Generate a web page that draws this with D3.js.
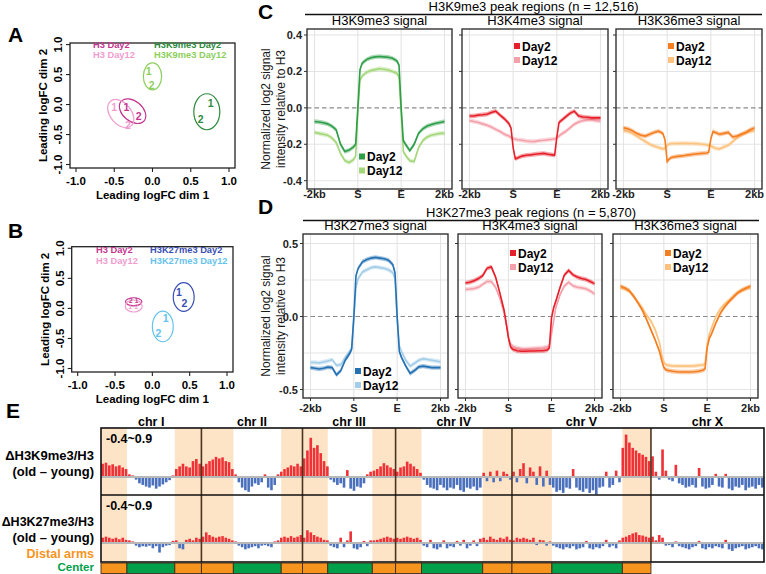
<!DOCTYPE html>
<html><head><meta charset="utf-8">
<script src="https://cdn.jsdelivr.net/npm/d3@7"></script>
<style>
body{margin:0;background:#fff}
svg text{font-family:"Liberation Sans",Arial,Helvetica,sans-serif}
</style>
</head><body>
<svg id="c" width="766" height="574"></svg>
<script>
// ================= DATA =================
// Panels A / B (MDS plots)
const mdsTicks = [-1, -0.5, 0, 0.5, 1];
const mdsTickLabels = ["-1.0", "-0.5", "0.0", "0.5", "1.0"];
const groupsA = ["H3 Day2", "H3 Day12", "H3K9me3 Day2", "H3K9me3 Day12"];
const groupsB = ["H3 Day2", "H3 Day12", "H3K27me3 Day2", "H3K27me3 Day12"];
const replicates = ["1", "2"];
// replicate coordinates: [rep1, rep2] per group
const ptsAx = [[-0.34, -0.18], [-0.50, -0.32], [0.76, 0.63], [-0.05, -0.01]];
const ptsAy = [[-0.05, -0.19], [-0.04, -0.34], [0.03, -0.24], [0.56, 0.33]];
// ellipse: [cx, cy, rx, ry, angle]
const ellA = [[-0.26, -0.11, 0.197, 0.167, 40], [-0.415, -0.15, 0.21, 0.175, 50], [0.71, -0.12, 0.17, 0.30, 0], [0.0, 0.47, 0.12, 0.225, 0]];
const ptsBx = [[-0.21, -0.29], [-0.30, -0.21], [0.355, 0.43], [0.18, 0.08]];
const ptsBy = [[0.135, 0.135], [0.035, 0.035], [0.27, 0.08], [-0.16, -0.42]];
const ellB = [[-0.25, 0.11, 0.11, 0.067, 0], [-0.25, 0.04, 0.114, 0.10, 0], [0.42, 0.19, 0.14, 0.24, 0], [0.14, -0.30, 0.14, 0.255, 0]];

// Panels C / D (metaprofiles)
const profilePos = [0,0.1,0.2,0.3,0.4,0.5,0.6,0.7,0.8,0.9,0.95,1,1.05,1.1,1.2,1.3,1.4,1.5,1.6,1.7,1.8,1.9,1.95,2,2.05,2.1,2.2,2.3,2.4,2.5,2.6,2.7,2.8,2.9,3];
const profileTickPos = [0, 1, 2, 3];
const profileTickLabels = ["-2kb", "S", "E", "2kb"];
const days = ["Day2", "Day12"];
// C: H3K9me3 peak regions
const cK9_d2  = [-0.075,-0.078,-0.082,-0.088,-0.100,-0.120,-0.200,-0.240,-0.232,-0.215,-0.200, 0.000, 0.210,0.245,0.265,0.275,0.280,0.282,0.280,0.278,0.272,0.258,0.235, 0.000, -0.180,-0.200,-0.235,-0.200,-0.140,-0.115,-0.100,-0.092,-0.085,-0.080,-0.075];
const cK9_d12 = [-0.135,-0.140,-0.145,-0.150,-0.165,-0.190,-0.250,-0.290,-0.300,-0.285,-0.265, -0.020, 0.150,0.175,0.195,0.205,0.210,0.215,0.212,0.208,0.200,0.190,0.170, -0.030, -0.240,-0.260,-0.290,-0.295,-0.220,-0.180,-0.160,-0.150,-0.145,-0.140,-0.140];
const cK4_d2  = [-0.045,-0.045,-0.040,-0.038,-0.035,-0.025,-0.018,-0.040,-0.060,-0.085,-0.110, -0.220, -0.280,-0.275,-0.265,-0.260,-0.258,-0.255,-0.252,-0.250,-0.255,-0.258,-0.260, -0.160, -0.080,-0.070,-0.050,-0.030,-0.018,-0.045,-0.050,-0.052,-0.055,-0.055,-0.055];
const cK4_d12 = [-0.070,-0.075,-0.080,-0.088,-0.095,-0.105,-0.118,-0.130,-0.145,-0.155,-0.162, -0.170, -0.172,-0.175,-0.178,-0.182,-0.185,-0.184,-0.180,-0.178,-0.175,-0.172,-0.170, -0.165, -0.155,-0.145,-0.130,-0.110,-0.090,-0.078,-0.070,-0.066,-0.066,-0.070,-0.072];
const cK36_d2 = [-0.110,-0.115,-0.125,-0.140,-0.150,-0.155,-0.145,-0.135,-0.128,-0.140,-0.175, -0.295, -0.280,-0.272,-0.268,-0.265,-0.262,-0.258,-0.255,-0.252,-0.250,-0.248,-0.245, -0.170, -0.130,-0.135,-0.145,-0.140,-0.135,-0.160,-0.155,-0.145,-0.135,-0.120,-0.110];
const cK36_d12= [-0.125,-0.130,-0.140,-0.155,-0.170,-0.185,-0.200,-0.210,-0.218,-0.225,-0.222, -0.205, -0.198,-0.196,-0.196,-0.195,-0.195,-0.196,-0.196,-0.197,-0.200,-0.203,-0.206, -0.210, -0.215,-0.222,-0.225,-0.215,-0.205,-0.185,-0.165,-0.148,-0.138,-0.130,-0.125];
// D: H3K27me3 peak regions
const dK27_d2 = [-0.350,-0.355,-0.360,-0.355,-0.347,-0.350,-0.400,-0.370,-0.300,-0.255,-0.225, 0.000, 0.280,0.330,0.375,0.390,0.400,0.405,0.400,0.395,0.385,0.355,0.300, 0.000, -0.240,-0.280,-0.340,-0.390,-0.370,-0.345,-0.340,-0.345,-0.350,-0.350,-0.350];
const dK27_d12= [-0.315,-0.315,-0.318,-0.312,-0.305,-0.295,-0.335,-0.330,-0.280,-0.240,-0.215, -0.020, 0.200,0.260,0.305,0.320,0.335,0.340,0.335,0.330,0.320,0.300,0.260, -0.020, -0.200,-0.240,-0.300,-0.340,-0.320,-0.300,-0.290,-0.295,-0.300,-0.305,-0.310];
const dK4_d2  = [0.230,0.235,0.245,0.260,0.280,0.330,0.340,0.270,0.160,0.040,-0.050, -0.150, -0.210,-0.225,-0.235,-0.238,-0.238,-0.236,-0.236,-0.235,-0.235,-0.230,-0.215, -0.010, 0.060,0.105,0.200,0.285,0.315,0.285,0.270,0.260,0.253,0.240,0.225];
const dK4_d12 = [0.185,0.188,0.192,0.200,0.220,0.240,0.240,0.200,0.125,0.020,-0.060, -0.140, -0.190,-0.205,-0.215,-0.220,-0.222,-0.220,-0.218,-0.216,-0.214,-0.208,-0.200, -0.120, -0.030,0.060,0.150,0.210,0.235,0.210,0.200,0.196,0.190,0.175,0.155];
const dK36_d2 = [0.208,0.195,0.178,0.140,0.095,0.045,-0.020,-0.090,-0.160,-0.240,-0.300, -0.350, -0.365,-0.370,-0.375,-0.378,-0.380,-0.380,-0.380,-0.378,-0.375,-0.368,-0.360, -0.215, -0.150,-0.120,-0.045,0.020,0.065,0.100,0.130,0.160,0.180,0.195,0.208];
const dK36_d12= [0.196,0.190,0.175,0.140,0.100,0.060,0.010,-0.030,-0.090,-0.180,-0.260, -0.315, -0.330,-0.335,-0.338,-0.340,-0.340,-0.340,-0.340,-0.338,-0.335,-0.332,-0.325, -0.190, -0.120,-0.080,0.000,0.050,0.085,0.110,0.140,0.165,0.180,0.190,0.196];
const cTicks = [0.4, 0.2, 0, -0.2, -0.4];
const cTickLabels = ["0.4", "0.2", "0.0", "-0.2", "-0.4"];
const dTicks = [0.5, 0, -0.5];
const dTickLabels = ["0.5", "0.0", "-0.5"];

// Panel E (genome tracks, ~0.5-Mb bins)
const chrNames = ["chr I", "chr II", "chr III", "chr IV", "chr V", "chr X"];
const chrLenMb = [15.1, 15.2, 14.0, 17.5, 20.9, 17.0];
const armLeftEndMb = [3.9, 4.8, 3.8, 3.9, 6.0, null];
const armRightStartMb = [11.1, 12.0, 10.5, 13.1, 16.6, null];
const dK9_I  = [0.25,0.27,0.22,0.24,0.20,0.22,0.18,0.15, 0.05,0.03,-0.05,-0.12,-0.15,-0.18,-0.20,-0.16,-0.22,-0.18,-0.14,-0.10,-0.06,0.03, 0.15,0.20,0.25,0.20,0.18,0.30,0.34,0.25];
const dK9_II = [0.20,0.25,0.30,0.33,0.38,0.35,0.37,0.30,0.28,0.15, 0.05,-0.10,-0.20,-0.25,-0.28,-0.18,-0.12,-0.15,-0.10,0.05,-0.20,-0.25,-0.15,0.05, 0.10,0.15,0.18,0.22,0.20,0.25,0.20];
const dK9_III= [0.35,0.50,0.74,0.55,0.60,0.45,0.30,0.20, -0.05,-0.10,-0.15,-0.12,-0.20,0.13,-0.22,-0.26,-0.18,-0.20,-0.12,0.05,0.10, 0.12,0.15,0.20,0.26,0.22,0.18,0.15];
const dK9_IV = [0.10,0.18,0.20,0.29,0.25,0.20,0.15,0.08, -0.05,-0.15,-0.20,-0.22,-0.25,-0.15,-0.20,-0.25,-0.20,-0.22,-0.15,-0.25,-0.28,-0.20,-0.22,-0.18,-0.25,-0.20, 0.08,-0.08,0.10,-0.10,0.12,-0.08,0.10,0.06,-0.05];
const dK9_V  = [0.10,-0.10,0.15,0.26,-0.12,0.18,0.10,-0.15,0.20,-0.18,0.12,-0.15, -0.20,-0.28,-0.25,-0.30,-0.20,-0.22,0.15,-0.20,-0.25,-0.28,-0.22,-0.30,-0.25,-0.33,-0.20,-0.18,0.10,-0.20,-0.15,0.12,-0.10, 0.55,0.80,0.65,0.55,0.50,0.45,0.42,0.38,0.30];
const dK9_X  = [0.39,0.10,-0.05,0.52,0.12,-0.05,-0.08,0.23,-0.12,-0.15,-0.20,-0.18,-0.15,-0.20,0.17,-0.18,-0.22,-0.20,-0.15,0.06,-0.18,-0.20,0.06,-0.22,-0.25,-0.18,-0.20,-0.15,-0.25,-0.20,-0.18,-0.22,-0.15,-0.20];
const dK27_I  = [0.10,0.12,0.10,0.08,0.10,0.07,0.10,0.06, 0.05,0.03,-0.05,-0.08,-0.06,-0.07,-0.05,-0.10,-0.06,-0.18,-0.08,-0.05,-0.04,0.04, 0.05,-0.10,-0.12,0.06,0.08,0.05,0.10,0.08];
const dK27_II = [0.12,0.20,0.15,0.12,0.10,0.12,0.13,0.10,0.08,0.05, 0.03,-0.05,-0.08,-0.12,-0.10,-0.08,-0.06,-0.10,-0.05,-0.04,-0.06,-0.08,0.03,0.05, 0.10,0.12,0.10,0.13,0.10,0.12,0.15];
const dK27_III= [0.10,0.24,0.20,0.15,0.12,0.10,0.06,0.05, -0.05,-0.08,-0.10,0.10,-0.08,0.05,0.22,-0.10,-0.12,-0.08,0.04,-0.06,0.05, 0.05,0.06,0.08,0.10,0.12,0.10,0.08];
const dK27_IV = [0.10,0.08,0.10,0.12,0.10,0.08,0.10,0.06, -0.05,-0.08,0.06,-0.10,-0.12,-0.08,0.05,-0.10,-0.06,-0.08,0.04,-0.05,0.06,-0.10,-0.05,0.05,-0.06,0.08, 0.10,0.06,0.12,0.08,0.06,0.10,0.08,0.12,0.06];
const dK27_V  = [0.05,0.10,0.08,0.10,0.08,0.06,0.10,-0.04,0.06,0.05,-0.05,0.03, -0.05,-0.08,-0.10,-0.12,-0.08,-0.10,-0.06,-0.12,-0.10,-0.08,0.04,-0.10,-0.12,-0.08,-0.10,-0.06,0.06,-0.08,-0.05,-0.10,0.05, 0.10,0.12,0.15,0.18,0.20,0.15,0.14,0.12,0.10];
const dK27_X  = [0.12,0.05,0.15,0.10,-0.05,-0.04,-0.08,0.03,-0.06,-0.08,-0.10,-0.12,-0.08,-0.06,0.04,-0.10,-0.12,-0.08,-0.10,-0.06,-0.08,-0.10,0.06,-0.12,-0.15,-0.10,-0.08,-0.06,-0.12,-0.10,-0.08,-0.06,-0.10,-0.12];
const trackRange = [-0.4, 0.9];

// ================= DRAWING =================
const svg = d3.select("#c");
const BOLD = "bold";

function txt(g, x, y, s, o = {}) {
  const t = g.append("text").attr("x", x).attr("y", y).text(s)
    .attr("font-size", o.size || 12).attr("font-weight", o.weight || "normal")
    .attr("fill", o.fill || "#000").attr("text-anchor", o.anchor || "start");
  if (o.rotate) t.attr("transform", `rotate(${o.rotate},${x},${y})`);
  return t;
}

// panel letters
[["A", 8, 42], ["B", 8, 238], ["C", 258, 19], ["D", 258, 214], ["E", 6, 418]]
  .forEach(([l, x, y]) => txt(svg, x, y, l, {size: 21, weight: BOLD}));

// ---------- MDS ----------
function drawMDS(p) {
  const g = svg.append("g");
  const x = d3.scaleLinear().domain([-1, 1]).range([p.x0 + 6, p.x1 - 6]);
  const y = d3.scaleLinear().domain([-1, 1]).range([p.y1 - 3.5, p.y0 + 1.6]);
  g.append("rect").attr("x", p.x0).attr("y", p.y0).attr("width", p.x1 - p.x0).attr("height", p.y1 - p.y0)
    .attr("fill", "none").attr("stroke", "#222").attr("stroke-width", 1.3);
  mdsTicks.forEach((t, i) => {
    g.append("line").attr("x1", x(t)).attr("x2", x(t)).attr("y1", p.y1).attr("y2", p.y1 + 4).attr("stroke", "#222").attr("stroke-width", 1.1);
    txt(g, x(t), p.y1 + 17, mdsTickLabels[i], {size: 11.5, weight: BOLD, anchor: "middle"});
    g.append("line").attr("x1", p.x0 - 4).attr("x2", p.x0).attr("y1", y(t)).attr("y2", y(t)).attr("stroke", "#222").attr("stroke-width", 1.1);
    txt(g, p.x0 - 8, y(t), mdsTickLabels[i], {size: 11.5, weight: BOLD, anchor: "middle", rotate: -90});
  });
  txt(g, (p.x0 + p.x1) / 2, p.y1 + 30.5, "Leading logFC dim 1", {size: 11.5, weight: BOLD, anchor: "middle"});
  txt(g, p.x0 - 23, (p.y0 + p.y1) / 2, "Leading logFC dim 2", {size: 11.5, weight: BOLD, anchor: "middle", rotate: -90});
  p.ell.forEach((e, i) => {
    g.append("ellipse").attr("cx", 0).attr("cy", 0)
      .attr("rx", x(e[2]) - x(0)).attr("ry", y(0) - y(e[3]))
      .attr("transform", `translate(${x(e[0])},${y(e[1])}) rotate(${e[4]})`)
      .attr("fill", "none").attr("stroke", p.colors[i]).attr("stroke-width", 1.2);
  });
  p.px.forEach((row, i) => row.forEach((vx, j) => {
    txt(g, x(vx), y(p.py[i][j]), replicates[j], {size: p.small[i] ? 6.5 : 10.5, weight: BOLD, anchor: "middle", fill: p.colors[i]})
      .attr("dy", "0.36em");
  }));
  p.groups.forEach((gname, i) => {
    txt(g, p.legX[i >> 1], p.legY[i & 1], gname, {size: 9.3, weight: BOLD, fill: p.colors[i]});
  });
}
drawMDS({x0: 70, x1: 235, y0: 43, y1: 168, ell: ellA, px: ptsAx, py: ptsAy, groups: groupsA,
  colors: ["#c4378f", "#ef9dcf", "#2e8a3e", "#8dcf5c"], small: [0, 0, 0, 0], legX: [93, 154], legY: [47.5, 58]});
drawMDS({x0: 71.7, x1: 233, y0: 246.7, y1: 372, ell: ellB, px: ptsBx, py: ptsBy, groups: groupsB,
  colors: ["#c4378f", "#ef9dcf", "#3a4fb4", "#66c3ec"], small: [1, 1, 0, 0], legX: [96, 150], legY: [253, 263.5]});

// ---------- Profiles ----------
function drawProfile(p) {
  const g = svg.append("g");
  const x = d3.scaleLinear().domain([0, 3]).range([p.x0 + 7.5, p.x1 - 7.5]);
  const y = d3.scaleLinear().domain(p.yDom).range(p.yRange);
  g.selectAll(null).data(profileTickPos).join("line")
    .attr("x1", d => x(d)).attr("x2", d => x(d)).attr("y1", p.y0).attr("y2", p.y1)
    .attr("stroke", "#e4e4e4").attr("stroke-width", 1.1);
  g.selectAll(null).data(p.grid).join("line")
    .attr("x1", p.x0).attr("x2", p.x1).attr("y1", d => y(d)).attr("y2", d => y(d))
    .attr("stroke", "#e4e4e4").attr("stroke-width", 1.1);
  g.append("line").attr("x1", p.x0).attr("x2", p.x1).attr("y1", y(0)).attr("y2", y(0))
    .attr("stroke", "#8a8a8a").attr("stroke-width", 1.2).attr("stroke-dasharray", "4.5,3");
  const area = d3.area().x(d => x(d[0])).y0(d => y(d[1] - p.err)).y1(d => y(d[1] + p.err));
  const line = d3.line().x(d => x(d[0])).y(d => y(d[1]));
  [1, 0].forEach(k => {
    const pts = profilePos.map((v, i) => [v, p.series[k][i]]);
    g.append("path").attr("d", area(pts)).attr("fill", p.colors[k]).attr("opacity", 0.4);
    g.append("path").attr("d", line(pts)).attr("fill", "none").attr("stroke", p.colors[k]).attr("stroke-width", 1.6);
  });
  g.append("rect").attr("x", p.x0).attr("y", p.y0).attr("width", p.x1 - p.x0).attr("height", p.y1 - p.y0)
    .attr("fill", "none").attr("stroke", "#333").attr("stroke-width", 1.4);
  profileTickPos.forEach((t, i) => {
    g.append("line").attr("x1", x(t)).attr("x2", x(t)).attr("y1", p.y1).attr("y2", p.y1 + 3).attr("stroke", "#333");
    txt(g, x(t), p.xLabY, profileTickLabels[i], {size: 11, weight: BOLD, anchor: "middle", fill: "#222"});
  });
  p.yTicks.forEach((t, i) => {
    g.append("line").attr("x1", p.x0 - 3).attr("x2", p.x0).attr("y1", y(t)).attr("y2", y(t)).attr("stroke", "#333");
    if (p.showY) txt(g, p.x0 - 5, y(t) + 4, p.yLabels[i], {size: 11, weight: BOLD, anchor: "end", fill: "#222"});
  });
  txt(g, (p.x0 + p.x1) / 2, p.y0 - 4, p.title, {size: 13, anchor: "middle"});
  days.forEach((d, k) => {
    const ly = p.legY + k * 14;
    g.append("rect").attr("x", p.x0 + 52).attr("y", ly - 3).attr("width", 6).attr("height", 6).attr("fill", p.colors[k]);
    txt(g, p.x0 + 60, ly + 4.5, d, {size: 12, weight: BOLD});
  });
}
const cBase = {y0: 29, y1: 189, yDom: [-0.4, 0.4], yRange: [180.7, 35], yTicks: cTicks, yLabels: cTickLabels,
  grid: [0.4, 0.2, -0.2, -0.4], err: 0.012, xLabY: 198};
drawProfile({...cBase, x0: 307, x1: 452, showY: true, title: "H3K9me3 signal", series: [cK9_d2, cK9_d12],
  colors: ["#2e9e48", "#a4d77a"], legY: 156.5});
drawProfile({...cBase, x0: 462, x1: 608, showY: false, title: "H3K4me3 signal", series: [cK4_d2, cK4_d12],
  colors: ["#e6202a", "#f4a0aa"], legY: 46});
drawProfile({...cBase, x0: 616, x1: 762, showY: false, title: "H3K36me3 signal", series: [cK36_d2, cK36_d12],
  colors: ["#f47e20", "#fcc27e"], legY: 46});
const dBase = {y0: 234, y1: 398, yDom: [-0.5, 0.5], yRange: [389.5, 243.5], yTicks: dTicks, yLabels: dTickLabels,
  grid: [0.5, 0.25, -0.25, -0.5], err: 0.015, xLabY: 411.5};
drawProfile({...dBase, x0: 303, x1: 448, showY: true, title: "H3K27me3 signal", series: [dK27_d2, dK27_d12],
  colors: ["#2471b3", "#a3cde8"], legY: 371});
drawProfile({...dBase, x0: 458, x1: 602, showY: false, title: "H3K4me3 signal", series: [dK4_d2, dK4_d12],
  colors: ["#e6202a", "#f4a0aa"], legY: 253});
drawProfile({...dBase, x0: 613, x1: 758, showY: false, title: "H3K36me3 signal", series: [dK36_d2, dK36_d12],
  colors: ["#f47e20", "#fcc27e"], legY: 253});

// headers & y titles
function header(x0, x1, yText, yLine, s) {
  txt(svg, (x0 + x1) / 2, yText, s, {size: 13, anchor: "middle"});
  svg.append("line").attr("x1", x0).attr("x2", x1).attr("y1", yLine).attr("y2", yLine).attr("stroke", "#111").attr("stroke-width", 1.3);
}
header(305, 762, 11, 14.5, "H3K9me3 peak regions (n = 12,516)");
header(303, 759, 216.5, 220.5, "H3K27me3 peak regions (n = 5,870)");
[[109], [316]].forEach(([cy]) => {
  txt(svg, 270, cy, "Normalized log2 signal", {size: 12, anchor: "middle", rotate: -90, fill: "#1a1a1a"});
  txt(svg, 285, cy, "intensity relative to H3", {size: 12, anchor: "middle", rotate: -90, fill: "#1a1a1a"});
});

// ---------- Panel E ----------
(function () {
  const g = svg.append("g");
  const X0 = 101, X1 = 764, T0 = 428, TM = 495, T1 = 562;
  const starts = Array.from(d3.cumsum([0, ...chrLenMb]));
  const gx = d3.scaleLinear().domain([0, d3.sum(chrLenMb)]).range([X0, X1]);
  const tracks = [
    {vals: [dK9_I, dK9_II, dK9_III, dK9_IV, dK9_V, dK9_X], top: T0, bot: TM, zero: 477},
    {vals: [dK27_I, dK27_II, dK27_III, dK27_IV, dK27_V, dK27_X], top: TM, bot: T1, zero: 543}
  ];
  chrLenMb.forEach((len, i) => {
    if (armLeftEndMb[i] == null) return;
    [[0, armLeftEndMb[i]], [armRightStartMb[i], len]].forEach(([a, b]) => {
      g.append("rect").attr("x", gx(starts[i] + a)).attr("y", T0).attr("width", gx(starts[i] + b) - gx(starts[i] + a))
        .attr("height", T1 - T0).attr("fill", "#fde4c7");
    });
  });
  tracks.forEach(tr => {
    const y = d3.scaleLinear().domain(trackRange).range([tr.zero - trackRange[0] * 53, tr.zero - trackRange[1] * 53]);
    tr.vals.forEach((vals, i) => {
      const bw = chrLenMb[i] / vals.length;
      g.selectAll(null).data(vals).join("rect")
        .attr("x", (d, j) => gx(starts[i] + j * bw) + 0.3)
        .attr("width", gx(bw) - gx(0) - 0.7)
        .attr("y", d => d > 0 ? y(d) : y(0))
        .attr("height", d => Math.abs(y(d) - y(0)))
        .attr("fill", d => d > 0 ? "#ee3237" : "#4a70bd");
    });
    g.append("line").attr("x1", X0).attr("x2", X1).attr("y1", y(0)).attr("y2", y(0)).attr("stroke", "#b8b8b8").attr("stroke-width", 2.2);
    txt(g, 106, tr.top + 15, "-0.4~0.9", {size: 12.5, weight: BOLD});
  });
  starts.slice(1, 6).forEach(s => {
    g.append("line").attr("x1", gx(s)).attr("x2", gx(s)).attr("y1", T0).attr("y2", T1).attr("stroke", "#4a3520").attr("stroke-width", 1.6);
  });
  g.append("rect").attr("x", X0).attr("y", T0).attr("width", X1 - X0).attr("height", T1 - T0)
    .attr("fill", "none").attr("stroke", "#111").attr("stroke-width", 1.6);
  g.append("line").attr("x1", X0).attr("x2", X1).attr("y1", TM).attr("y2", TM).attr("stroke", "#111").attr("stroke-width", 1.6);
  chrLenMb.forEach((len, i) => {
    if (armLeftEndMb[i] == null) return;
    [[0, armLeftEndMb[i], "#f7941d"], [armLeftEndMb[i], armRightStartMb[i], "#00a04b"], [armRightStartMb[i], len, "#f7941d"]]
      .forEach(([a, b, c]) => {
        g.append("rect").attr("x", gx(starts[i] + a)).attr("y", 563).attr("width", gx(starts[i] + b) - gx(starts[i] + a))
          .attr("height", 10.5).attr("fill", c).attr("stroke", "#3d2b1f").attr("stroke-width", 0.9);
      });
  });
  chrNames.forEach((n, i) => txt(g, gx(starts[i] + chrLenMb[i] / 2), 426, n, {size: 12.5, weight: BOLD, anchor: "middle"}));
  txt(g, 94, 460, "\u0394H3K9me3/H3", {size: 13, weight: BOLD, anchor: "end"});
  txt(g, 94, 475.5, "(old \u2013 young)", {size: 13, weight: BOLD, anchor: "end"});
  txt(g, 94, 525.5, "\u0394H3K27me3/H3", {size: 12.5, weight: BOLD, anchor: "end"});
  txt(g, 94, 541.5, "(old \u2013 young)", {size: 13, weight: BOLD, anchor: "end"});
  txt(g, 94, 558, "Distal arms", {size: 12.5, weight: BOLD, anchor: "end", fill: "#f7941d"});
  txt(g, 94, 571.3, "Center", {size: 11.5, weight: BOLD, anchor: "end", fill: "#00a04b"});
})();
</script>
</body></html>
